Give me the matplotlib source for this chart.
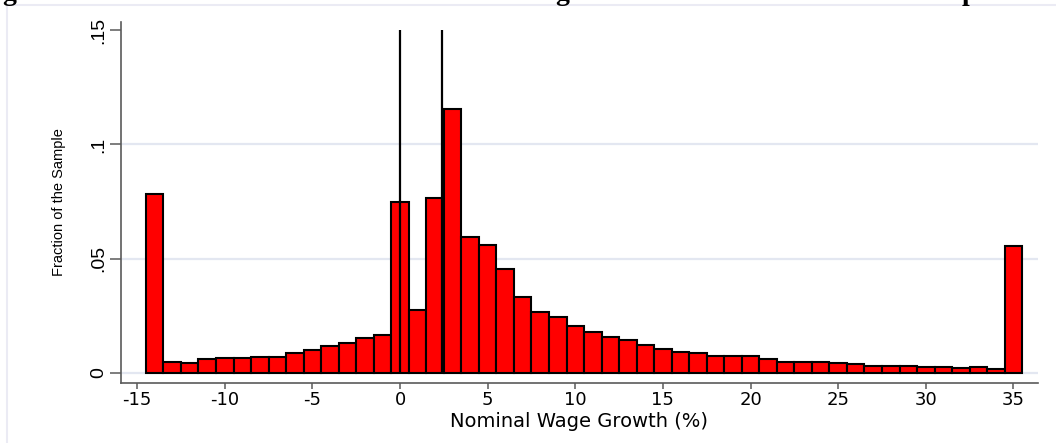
import matplotlib
matplotlib.use("Agg")
import matplotlib.pyplot as plt
from matplotlib.lines import Line2D
import numpy as np

# Data: bins of nominal wage growth (%) and fraction of sample
bins = list(range(-14, 36))
fractions = [
    0.0783, 0.0049, 0.0045, 0.0060, 0.0064, 0.0066, 0.0071, 0.0070, 0.0089, 0.0102,
    0.0117, 0.0130, 0.0153, 0.0168, 0.0747, 0.0277, 0.0764, 0.1155, 0.0596, 0.0560,
    0.0454, 0.0331, 0.0267, 0.0246, 0.0206, 0.0179, 0.0157, 0.0144, 0.0122, 0.0103,
    0.0092, 0.0086, 0.0073, 0.0076, 0.0076, 0.0063, 0.0050, 0.0050, 0.0049, 0.0044,
    0.0038, 0.0031, 0.0032, 0.0031, 0.0025, 0.0026, 0.0020, 0.0025, 0.0017, 0.0557,
]
ref_lines = [0.0, 2.4]
xticks = [-15, -10, -5, 0, 5, 10, 15, 20, 25, 30, 35]
yticks = [0, 0.05, 0.10, 0.15]
ytick_labels = ["0", ".05", ".1", ".15"]

W, H = 1056, 443
fig = plt.figure(figsize=(W / 100, H / 100), dpi=100)
fig.patch.set_facecolor("white")

ax = fig.add_axes([121 / W, 1 - 383 / H, (1038 - 121) / W, (383 - 21.7) / H])
ax.set_xlim(-15.92, 36.4)
ax.set_ylim(-0.0044, 0.1537)

for gy in [0, 0.05, 0.10]:
    ax.axhline(gy, color="#e3e7f1", lw=1.6, zorder=0)

ax.bar(bins, fractions, width=1.0, color="#ff0000", edgecolor="black", linewidth=1.5, zorder=2)
ax.vlines(ref_lines, 0, 0.15, colors="black", linewidth=1.6, zorder=3)

for s in ["top", "right"]:
    ax.spines[s].set_visible(False)
for s in ["left", "bottom"]:
    ax.spines[s].set_color("#5a5a5a")
    ax.spines[s].set_linewidth(1.2)

xtickfont = {"family": ["DejaVu Sans"], "size": 13}
ytickfont = {"family": ["Liberation Sans", "DejaVu Sans"], "size": 14}
ax.set_xticks(xticks)
ax.set_xticklabels([str(t) for t in xticks], fontdict=xtickfont)
ax.set_yticks(yticks)
ax.set_yticklabels(ytick_labels, fontdict=ytickfont, rotation=90, va="center")
ax.tick_params(axis="x", length=4, width=1.1, color="#5a5a5a", pad=2)
ax.tick_params(axis="y", length=8, width=1.1, color="#5a5a5a", pad=2)

ax.set_xlabel("Nominal Wage Growth (%)", family=["DejaVu Sans"], fontsize=14, labelpad=2)
ax.set_ylabel("Fraction of the Sample", family=["Liberation Sans Narrow", "Liberation Sans", "DejaVu Sans"],
              fontsize=10.5, labelpad=17)

# light outer frame lines
fig.add_artist(Line2D([7 / W, 1], [1 - 5 / H, 1 - 5 / H], color="#ebebf4", lw=1.5, transform=fig.transFigure))
fig.add_artist(Line2D([7 / W, 7 / W], [0, 1 - 5 / H], color="#ebebf4", lw=1.5, transform=fig.transFigure))

# cropped title fragments (descenders only visible)
for xp, ch in [(2, "g"), (555, "g"), (962, "p")]:
    fig.text(xp / W, 1 + 0.3 / H, ch, family=["Liberation Serif", "DejaVu Serif"], fontweight="bold",
             fontsize=20, va="baseline", ha="left")

fig.savefig("out.png", dpi=100)
